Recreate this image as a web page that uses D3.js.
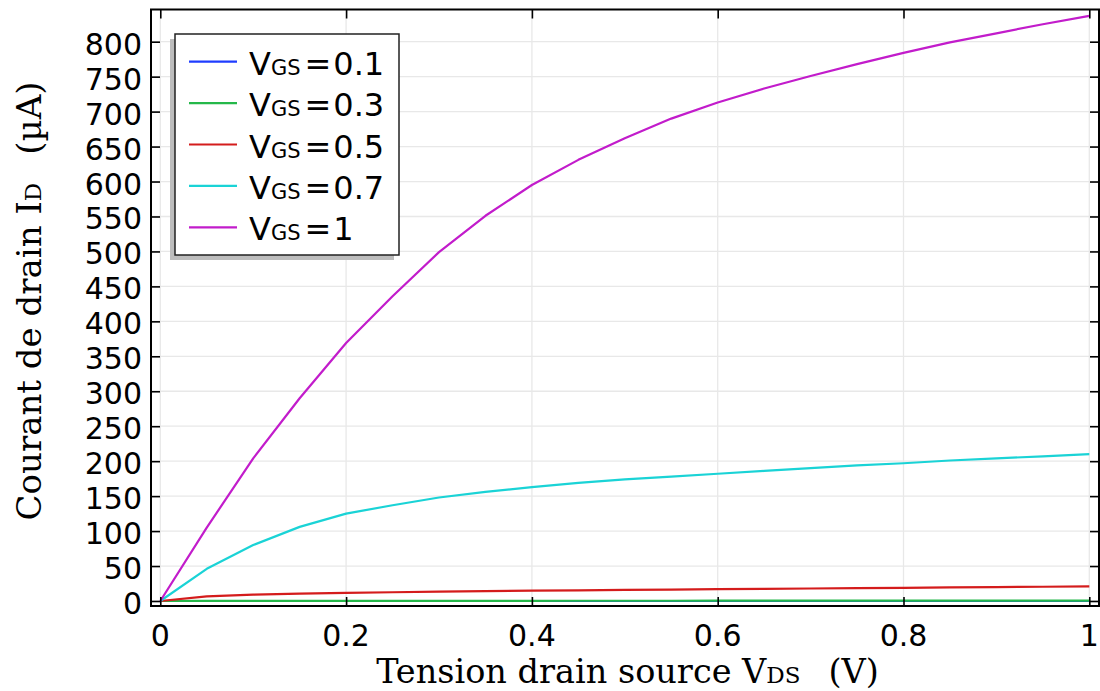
<!DOCTYPE html>
<html>
<head>
<meta charset="utf-8">
<script src="https://cdn.jsdelivr.net/npm/d3@7"></script>
<style>
  html, body { margin: 0; padding: 0; background: #fff; }
  svg { display: block; }
</style>
</head>
<body>
<svg id="chart" width="1100" height="691"></svg>
<script>
// ---- data ----
const vds = [0, 0.05, 0.1, 0.15, 0.2, 0.25, 0.3, 0.35, 0.4, 0.45, 0.5, 0.55, 0.6, 0.65, 0.7, 0.75, 0.8, 0.85, 0.9, 0.95, 1];
const idVgs01 = [0, 0, 0, 0, 0, 0, 0, 0, 0, 0, 0, 0, 0, 0, 0, 0, 0, 0, 0, 0, 0];
const idVgs03 = [0, 0.1, 0.15, 0.2, 0.22, 0.25, 0.27, 0.3, 0.32, 0.34, 0.36, 0.38, 0.4, 0.42, 0.44, 0.46, 0.48, 0.5, 0.52, 0.54, 0.56];
const idVgs05 = [0, 6.5, 9, 10.5, 11.5, 12.5, 13.3, 14, 14.7, 15.3, 15.9, 16.4, 16.9, 17.4, 17.9, 18.4, 18.9, 19.4, 19.9, 20.4, 21];
const idVgs07 = [0, 46, 80, 106, 125, 137, 148, 156, 163, 169, 174, 178, 182, 186, 190, 194, 197, 201, 204, 207, 210];
const idVgs1  = [0, 105, 204, 290, 369, 436, 499, 551, 595, 631, 662, 690, 713, 733, 751, 768, 784, 799, 812, 825, 837];
const seriesNames = ["0.1", "0.3", "0.5", "0.7", "1"];
const seriesColors = ["#1f3dff", "#25b84a", "#d41c1c", "#1ad3d6", "#c21ccb"];
const xTicks = [0, 0.2, 0.4, 0.6, 0.8, 1];
const xTickLabels = ["0", "0.2", "0.4", "0.6", "0.8", "1"];
const yTicks = [0, 50, 100, 150, 200, 250, 300, 350, 400, 450, 500, 550, 600, 650, 700, 750, 800];

const seriesValues = [idVgs01, idVgs03, idVgs05, idVgs07, idVgs1];

// ---- layout ----
const svg = d3.select("#chart");
const frame = { left: 151, right: 1099, top: 9.5, bottom: 606 };
const x = d3.scaleLinear().domain([0, 1]).range([160.3, 1089.3]);
const y = d3.scaleLinear().domain([0, 800]).range([601, 41.7]);
const tickLen = 9;

// grid
const grid = svg.append("g");
grid.selectAll("line.gx").data(xTicks).join("line")
  .attr("x1", d => x(d)).attr("x2", d => x(d))
  .attr("y1", frame.top).attr("y2", frame.bottom)
  .attr("stroke", "#e8e8e8").attr("stroke-width", 1.3);
grid.selectAll("line.gy").data(yTicks).join("line")
  .attr("x1", frame.left).attr("x2", frame.right)
  .attr("y1", d => y(d)).attr("y2", d => y(d))
  .attr("stroke", "#e8e8e8").attr("stroke-width", 1.3);

// clip
svg.append("defs").append("clipPath").attr("id", "plotclip")
  .append("rect").attr("x", frame.left).attr("y", frame.top)
  .attr("width", frame.right - frame.left).attr("height", frame.bottom - frame.top);

// lines
const line = d3.line().x((d, i) => x(vds[i])).y(d => y(d));
svg.append("g").attr("clip-path", "url(#plotclip)")
  .selectAll("path").data(seriesValues).join("path")
  .attr("d", d => line(d))
  .attr("fill", "none")
  .attr("stroke", (d, i) => seriesColors[i])
  .attr("stroke-width", 2.2)
  .attr("stroke-linejoin", "round");

// axes (ticks inward on all sides)
const axBottom = d3.axisBottom(x).tickValues(xTicks).tickSize(-tickLen).tickFormat("");
const axTop = d3.axisTop(x).tickValues(xTicks).tickSize(-tickLen).tickFormat("");
const axLeft = d3.axisLeft(y).tickValues(yTicks).tickSize(-tickLen).tickFormat("");
const axRight = d3.axisRight(y).tickValues(yTicks).tickSize(-tickLen).tickFormat("");

function styleAxis(g) {
  g.select(".domain").remove();
  g.selectAll(".tick line").attr("stroke", "#000").attr("stroke-width", 1.6);
}
svg.append("g").attr("transform", `translate(0,${frame.bottom})`).call(axBottom).call(styleAxis);
svg.append("g").attr("transform", `translate(0,${frame.top})`).call(axTop).call(styleAxis);
svg.append("g").attr("transform", `translate(${frame.left},0)`).call(axLeft).call(styleAxis);
svg.append("g").attr("transform", `translate(${frame.right},0)`).call(axRight).call(styleAxis);

// frame
svg.append("rect")
  .attr("x", frame.left).attr("y", frame.top)
  .attr("width", frame.right - frame.left).attr("height", frame.bottom - frame.top)
  .attr("fill", "none").attr("stroke", "#000").attr("stroke-width", 2);

// tick labels
const tickFont = "'DejaVu Sans', sans-serif";
svg.append("g").selectAll("text").data(xTicks).join("text")
  .attr("x", d => x(d)).attr("y", 646)
  .attr("text-anchor", "middle")
  .attr("font-family", tickFont).attr("font-size", 30).attr("fill", "#000")
  .text((d, i) => xTickLabels[i]);
svg.append("g").selectAll("text").data(yTicks).join("text")
  .attr("x", 142).attr("y", d => y(d) + 13)
  .attr("text-anchor", "end")
  .attr("font-family", tickFont).attr("font-size", 30).attr("fill", "#000")
  .text(d => d);

// axis titles
const serif = "'DejaVu Serif', serif";
const xt = svg.append("text")
  .attr("x", 627.5).attr("y", 683)
  .attr("text-anchor", "middle")
  .attr("font-family", serif).attr("font-size", 33.5).attr("fill", "#000");
xt.append("tspan").text("Tension drain source V");
xt.append("tspan").attr("font-size", 23).text("DS");
xt.append("tspan").attr("dx", 28).text("(V)");

const yt = svg.append("text")
  .attr("transform", "translate(41,301) rotate(-90)")
  .attr("text-anchor", "middle")
  .attr("font-family", serif).attr("font-size", 34).attr("fill", "#000");
yt.append("tspan").text("Courant de drain I");
yt.append("tspan").attr("font-size", 23).text("D");
yt.append("tspan").attr("dx", 28).text("(µA)");

// legend
const lg = { x: 175, y: 34, w: 224, h: 221 };
svg.append("rect").attr("x", lg.x - 5).attr("y", lg.y + 5).attr("width", lg.w).attr("height", lg.h)
  .attr("fill", "#bdbdbd");
svg.append("rect").attr("x", lg.x).attr("y", lg.y).attr("width", lg.w).attr("height", lg.h)
  .attr("fill", "#fff").attr("stroke", "#222").attr("stroke-width", 1.5);
const rows = svg.append("g").selectAll("g").data(seriesNames).join("g")
  .attr("transform", (d, i) => `translate(0,${61.7 + i * 41.4})`);
rows.append("line").attr("x1", 189).attr("x2", 237).attr("y1", 0).attr("y2", 0)
  .attr("stroke", (d, i) => seriesColors[i]).attr("stroke-width", 2.2);
const lt = rows.append("text").attr("x", 249).attr("y", 13)
  .attr("font-family", tickFont).attr("font-size", 32).attr("fill", "#000");
lt.append("tspan").text("V");
lt.append("tspan").attr("font-size", 21).text("GS");
lt.append("tspan").attr("dx", 4).text("=");
lt.append("tspan").attr("dx", 2).text(d => d);
</script>
</body>
</html>
